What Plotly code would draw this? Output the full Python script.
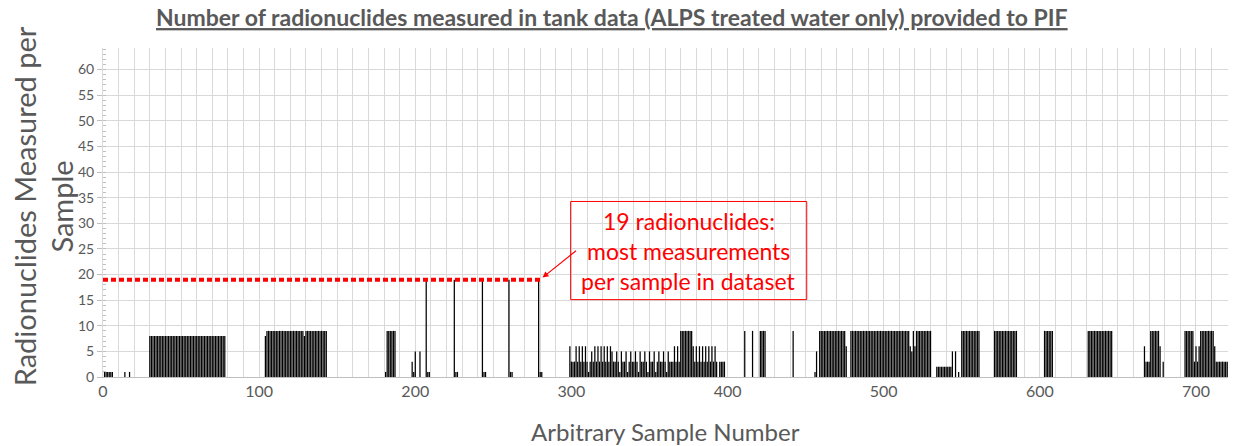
import plotly.graph_objects as go

# ---------------- data ----------------
N_SAMPLES = 720

# uniform runs: (first sample, last sample, radionuclides measured per sample)
uniform_runs = [
    (1, 6, 1), (14, 14, 1), (17, 17, 1),
    (30, 78, 8),
    (104, 104, 8), (105, 128, 9), (129, 129, 8), (130, 143, 9),
    (181, 181, 1), (182, 187, 9),
    (208, 209, 1), (226, 227, 1), (244, 245, 1), (261, 262, 1), (280, 281, 1),
    (370, 377, 9), (395, 398, 3),
    (411, 411, 9), (416, 416, 9), (421, 424, 9), (442, 442, 9),
    (459, 475, 9), (479, 516, 9), (521, 530, 9),
    (534, 543, 2),
    (550, 561, 9), (571, 585, 9), (603, 608, 9), (631, 646, 9),
    (671, 676, 9), (693, 698, 9), (703, 711, 9), (713, 720, 3),
]

# the samples with the most measurements in the dataset
peak_samples = [207, 225, 243, 260, 279]
PEAK_COUNT = 19

# irregular stretches: (first sample, counts of consecutive samples)
mixed_stretches = [
    (198, [3, 1, 5, 0, 0, 5]),
    (299, [6, 3, 3, 3, 6, 3, 6, 3, 6, 3, 6, 3, 1, 3, 5, 3, 6, 3, 6, 3,
           6, 3, 6, 3, 6, 3, 6]),
    (326, [5, 3, 3, 5, 3, 1, 5, 3, 3, 5, 1, 3, 5, 3, 3, 5, 3, 1, 5, 3,
           3, 5, 3, 1, 5, 3, 3, 5, 1, 3, 5, 3, 3, 5, 3, 1, 5, 3, 3]),
    (365, [3, 6, 3, 6, 3]),
    (378, [6, 3, 6, 3, 6, 3, 6, 3, 6, 3, 6, 3, 6, 3, 6, 3]),
    (456, [1, 5]),
    (476, [6]),
    (517, [6, 5, 9, 6]),
    (544, [5, 0, 5, 0, 1]),
    (667, [6, 3, 3, 3]),
    (677, [6, 0, 3]),
    (699, [3, 6, 3, 6]),
    (712, [6]),
]

x_ticks = [0, 100, 200, 300, 400, 500, 600, 700]
title_text = ("Number of radionuclides measured in tank data "
              "(ALPS treated water only) provided to PIF")
callout_lines = ["19 radionuclides:", "most measurements", "per sample in dataset"]

# ---------------- build series ----------------
samples = list(range(1, N_SAMPLES + 1))
counts = [0] * N_SAMPLES
for first, last, v in uniform_runs:
    for s in range(first, last + 1):
        counts[s - 1] = v
for s in peak_samples:
    counts[s - 1] = PEAK_COUNT
for first, vals in mixed_stretches:
    for i, v in enumerate(vals):
        counts[first - 1 + i] = v

GRID = "#d9d9d9"
TXT = "#595959"
RED = "#ff0000"
FONT = "Lato"

fig = go.Figure(go.Bar(
    x=samples, y=counts, width=0.8,
    marker=dict(color="rgba(0,0,0,0.995)", line=dict(width=0)),
    hoverinfo="x+y",
))

fig.update_layout(
    width=1233, height=446,
    margin=dict(l=103, r=5, t=48, b=68.5),
    plot_bgcolor="white", paper_bgcolor="white",
    showlegend=False, bargap=0.2,
    font=dict(family=FONT, color=TXT),
    title=dict(
        text=title_text, x=0.4962, xanchor="center", xref="container",
        y=1 - 18 / 446, yanchor="middle", yref="container",
        font=dict(family=FONT, size=23, color=TXT, weight="bold", lineposition="under"),
    ),
)

fig.update_xaxes(
    range=[0, 720.5], tickmode="array", tickvals=x_ticks,
    showgrid=True, gridcolor=GRID, gridwidth=1,
    minor=dict(dtick=10, tick0=0, showgrid=True, gridcolor=GRID, gridwidth=1),
    showline=True, linecolor="#bfbfbf", linewidth=1,
    ticks="", tickfont=dict(size=16, color=TXT, family=FONT), zeroline=False,
)
fig.update_yaxes(
    range=[0, 64.2], tick0=0, dtick=5,
    showgrid=True, gridcolor=GRID, gridwidth=1,
    showline=True, linecolor=GRID, linewidth=1,
    ticks="outside", ticklen=5, tickcolor="#bfbfbf",
    minor=dict(dtick=1, tick0=0, ticks="inside", ticklen=3, tickcolor="#bfbfbf", showgrid=False),
    tickfont=dict(size=14, color=TXT, family=FONT), zeroline=False,
)

# red dotted line at the maximum, out to the last peak
fig.add_shape(type="line", xref="x", yref="y",
              x0=0, x1=peak_samples[-1] + 2.2, y0=PEAK_COUNT, y1=PEAK_COUNT,
              line=dict(color=RED, width=4, dash="5px,3px"))

# callout box
fig.add_shape(type="rect", xref="x", yref="y",
              x0=299.5, x1=450.7, y0=15.1, y1=34.25,
              line=dict(color=RED, width=1), fillcolor="rgba(0,0,0,0)")
for i, line in enumerate(callout_lines):
    fig.add_annotation(x=375.1, y=24.6, xref="x", yref="y", text=line,
                       showarrow=False, yshift=30 - 30 * i,
                       font=dict(family=FONT, size=23, color=RED),
                       xanchor="center", yanchor="middle")

# arrow from callout to end of dotted line
fig.add_annotation(x=peak_samples[-1] + 2.5, y=PEAK_COUNT + 0.4, xref="x", yref="y",
                   text="", showarrow=True, ax=35, ay=-28,
                   arrowcolor=RED, arrowhead=2, arrowsize=1, arrowwidth=1.2)

# axis titles
fig.add_annotation(x=-0.0529, y=0.5205, xref="paper", yref="paper",
                   text="Radionuclides Measured per<br>Sample", textangle=-90,
                   showarrow=False, xanchor="center", yanchor="middle",
                   font=dict(family=FONT, size=29, color=TXT))
fig.add_annotation(x=0.5, y=0, xref="paper", yref="paper",
                   text="Arbitrary Sample Number", showarrow=False,
                   xanchor="center", yanchor="middle", yshift=-54,
                   font=dict(family=FONT, size=24, color=TXT))

fig.write_html("out.html", config={"displayModeBar": False},
               post_script="document.body.style.margin='0';")
